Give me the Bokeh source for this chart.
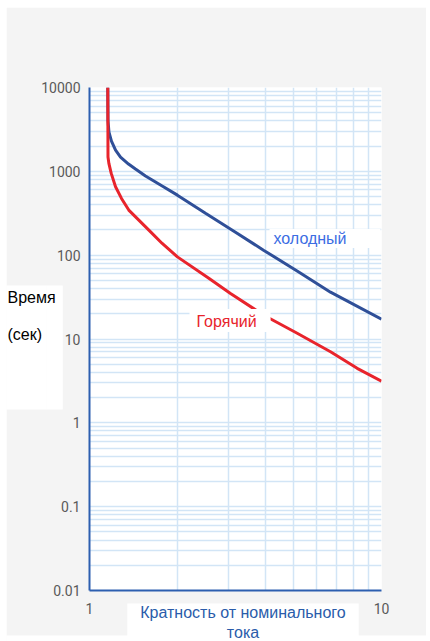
from bokeh.plotting import figure
from bokeh.models import FixedTicker, Label, CustomJSTickFormatter
from bokeh.embed import file_html
from bokeh.resources import INLINE

# Time-current characteristic: multiple of rated current vs. trip time (s)
cold_mult = [1.155, 1.157, 1.166, 1.189, 1.228, 1.277, 1.360, 1.437, 1.555, 1.774,
             2.0, 2.496, 3.162, 3.944, 5.157, 6.689, 10.0]
cold_time = [10000, 4000, 2942, 2297, 1794, 1480, 1221, 1064, 878, 667,
             520, 317, 188, 114.7, 64.4, 36.2, 17.2]

hot_mult = [1.155, 1.157, 1.165, 1.187, 1.228, 1.287, 1.363, 1.597, 1.774, 2.0,
            2.562, 3.040, 3.953, 5.144, 6.689, 8.255, 10.0]
hot_time = [10000, 1480, 1244, 945, 654, 475, 345, 199, 138, 95.4,
            53.1, 34.9, 19.2, 11.7, 7.04, 4.47, 3.13]

x_major = [1, 10]
x_labels = ["1", "10"]
x_minor = [2, 3, 4, 5, 6, 7, 8, 9]

y_major = [0.01, 0.1, 1, 10, 100, 1000, 10000]
y_labels = ["0.01", "0.1", "1", "10", "100", "1000", "10000"]
y_minor = [k * 10.0 ** e for e in range(-2, 4) for k in range(2, 10)]

AXIS_BLUE = "#2c5fb0"
GRID_BLUE = "#d2e5f6"
TICK_GRAY = "#5a5a5a"
LABEL_FONT = "Liberation Sans"

p = figure(width=420, height=634, margin=(7, 4, 0, 6), title=None,
           x_axis_type="log", y_axis_type="log",
           x_range=(1, 10), y_range=(0.01, 10000),
           output_backend="svg", toolbar_location=None,
           min_border_left=83, min_border_right=45,
           min_border_top=80, min_border_bottom=51,
           background_fill_color="white", border_fill_color="#f4f4f4",
           outline_line_color=None)


def fmt(vals, labs):
    return CustomJSTickFormatter(args=dict(vals=vals, labs=labs), code="""
        const i = vals.findIndex(v => Math.abs(Math.log10(v) - Math.log10(tick)) < 1e-6);
        return i >= 0 ? labs[i] : "";
    """)


xt = FixedTicker(ticks=x_major, minor_ticks=x_minor)
yt = FixedTicker(ticks=y_major, minor_ticks=y_minor)
p.xaxis.ticker = xt
p.yaxis.ticker = yt
p.xgrid.ticker = xt
p.ygrid.ticker = yt
p.xaxis.formatter = fmt(x_major, x_labels)
p.yaxis.formatter = fmt(y_major, y_labels)

for ax in (p.xaxis, p.yaxis):
    ax.axis_line_color = AXIS_BLUE
    ax.axis_line_width = 2
    ax.major_tick_line_color = None
    ax.minor_tick_line_color = None
    ax.major_tick_out = 0
    ax.major_tick_in = 0
    ax.minor_tick_out = 0
    ax.minor_tick_in = 0
    ax.major_label_text_font = "Roboto"
    ax.major_label_text_font_size = "14px"
    ax.major_label_text_color = TICK_GRAY
p.xaxis.major_label_standoff = 12
p.xaxis.major_label_text_align = "right"
p.yaxis.major_label_standoff = 9

p.xgrid.grid_line_color = None
p.xgrid.minor_grid_line_color = GRID_BLUE
p.xgrid.minor_grid_line_width = 1.5
p.ygrid.grid_line_color = GRID_BLUE
p.ygrid.grid_line_width = 1.5
p.ygrid.minor_grid_line_color = GRID_BLUE
p.ygrid.minor_grid_line_width = 1.5

p.line(cold_mult, cold_time, line_color="#2f4f98", line_width=3)
p.line(hot_mult, hot_time, line_color="#e8242c", line_width=3)

# Pixel -> data helpers (frame spans x 89..381 and y 87..590 on the page)
PX_X1, PX_X10 = 89, 381
PX_YMIN, PX_YMAX = 590, 87


def data_x(px):
    return 10 ** ((px - PX_X1) / (PX_X10 - PX_X1))


def data_y(py):
    return 10 ** (-2 + 6 * (PX_YMIN - py) / (PX_YMIN - PX_YMAX))


def text_label(px, py, text, color, align="left", baseline="middle", size="16px", **kw):
    return Label(x=data_x(px), y=data_y(py), text=text, text_align=align,
                 text_baseline=baseline, text_font=LABEL_FONT,
                 text_font_size=size, text_color=color, **kw)


def white_panel(px, py, w, h):
    # plain white backing rectangle
    return Label(x=data_x(px), y=data_y(py), text=" ", text_align="left",
                 text_baseline="top", text_font_size="1px",
                 background_fill_color="white",
                 padding=dict(left=0, right=w, top=0, bottom=h))


# curve captions inside the plot area
p.add_layout(text_label(269, 238, "холодный", "#3b6de3",
                        background_fill_color="white",
                        padding=dict(left=4, right=34, top=1, bottom=1)))
p.add_layout(text_label(189, 320, "Горячий", "#e8242c",
                        background_fill_color="white",
                        padding=dict(left=7, right=14, top=4, bottom=2)))

# white backing behind the y title (split across the side borders)
p.add_layout(white_panel(6, 285, 40, 123), "right")
p.add_layout(white_panel(46, 285, 16, 123), "left")
# white strip along the bottom edge of the page
p.add_layout(white_panel(6, 635, 420, 6), "below")

# y title and x title
p.add_layout(text_label(7, 297, "Время", "black", level="overlay"), "above")
p.add_layout(text_label(7, 334, "(сек)", "black", level="overlay"), "above")
p.add_layout(text_label(242.5, 603, "Кратность от номинального\nтока", "#2a5caa",
                        align="center", baseline="top", level="overlay",
                        background_fill_color="white",
                        padding=dict(left=13, right=13, top=0, bottom=0)), "above")

open("out.html", "w").write(file_html(p, INLINE))
